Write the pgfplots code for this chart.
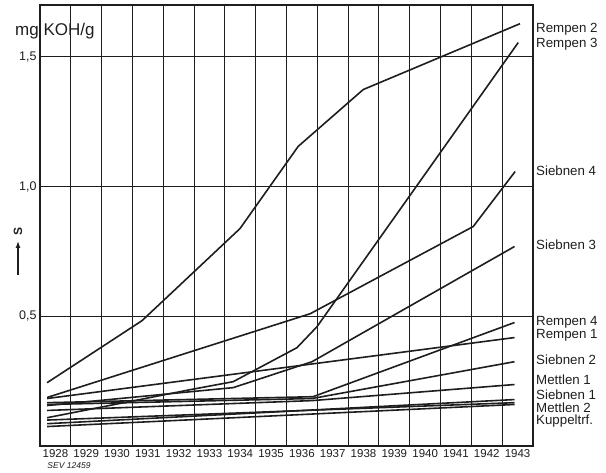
\documentclass[border=0pt]{standalone}
\usepackage{fontspec}
\setmainfont{Liberation Sans}
\usepackage{pgfplots}
\pgfplotsset{compat=1.18}
\usetikzlibrary{arrows.meta}
\definecolor{ink}{HTML}{1E1E1E}
\begin{document}
\begin{tikzpicture}
\begin{axis}[
  scale only axis, width=493pt, height=441pt,
  xmin=0, xmax=16, ymin=0, ymax=1.7,
  xtick={0.5,1.5,2.5,3.5,4.5,5.5,6.5,7.5,8.5,9.5,10.5,11.5,12.5,13.5,14.5,15.5},
  xticklabels={1928,1929,1930,1931,1932,1933,1934,1935,1936,1937,1938,1939,1940,1941,1942,1943},
  extra x ticks={1,2,3,4,5,6,7,8,9,10,11,12,13,14,15},
  extra x tick labels={},
  extra x tick style={grid=major},
  ytick={0.5,1,1.5},
  yticklabels={{0,5},{1,0},{1,5}},
  ymajorgrids,
  major tick length=0pt,
  xticklabel style={font=\fontsize{11.5}{12}\selectfont, text=ink},
  yticklabel style={font=\fontsize{12.5}{13}\selectfont, text=ink},
  grid style={line width=0.9pt, color=ink},
  axis line style={line width=1.3pt, color=ink},
  every axis plot post/.append style={color=ink, line width=1.6pt, solid, mark=none},
  clip=false,
]
% Rempen 2
\addplot coordinates {(0.23,0.244) (3.31,0.483) (6.49,0.838) (8.38,1.155) (10.49,1.374) (15.58,1.628)};
% Rempen 3
\addplot coordinates {(0.23,0.109) (4.87,0.217) (6.27,0.248) (8.34,0.379) (8.99,0.460) (15.52,1.555)};
% Siebnen 4
\addplot coordinates {(0.23,0.187) (8.77,0.510) (14.06,0.846) (15.42,1.058)};
% Siebnen 3
\addplot coordinates {(0.23,0.156) (6.27,0.225) (8.83,0.325) (15.4,0.769)};
% Rempen 1
\addplot coordinates {(0.23,0.183) (15.4,0.418)};
% Rempen 4
\addplot coordinates {(0.23,0.167) (8.86,0.190) (15.4,0.476)};
% Siebnen 2
\addplot coordinates {(0.23,0.160) (8.83,0.183) (15.4,0.325)};
% Mettlen 1
\addplot coordinates {(0.23,0.137) (8.83,0.175) (15.4,0.237)};
% Siebnen 1
\addplot coordinates {(0.23,0.086) (15.4,0.179)};
% Mettlen 2
\addplot coordinates {(0.23,0.100) (15.4,0.167)};
% Kuppeltrf.
\addplot coordinates {(0.23,0.075) (15.4,0.160)};

\begin{scope}[every node/.style={anchor=base west, xshift=3pt, font=\fontsize{13.3}{14}\selectfont, text=ink, inner sep=0pt}]
\node at (axis cs:16,1.594) {Rempen 2};
\node at (axis cs:16,1.536) {Rempen 3};
\node at (axis cs:16,1.042) {Siebnen 4};
\node at (axis cs:16,0.757) {Siebnen 3};
\node at (axis cs:16,0.464) {Rempen 4};
\node at (axis cs:16,0.414) {Rempen 1};
\node at (axis cs:16,0.314) {Siebnen 2};
\node at (axis cs:16,0.237) {Mettlen 1};
\node at (axis cs:16,0.179) {Siebnen 1};
\node at (axis cs:16,0.130) {Mettlen 2};
\node at (axis cs:16,0.082) {Kuppeltrf.};
\end{scope}
\node[anchor=base west, inner sep=0pt, font=\fontsize{17}{18}\selectfont, text=ink] at (axis cs:-0.81,1.582) {mg KOH/g};
\node[anchor=center, inner sep=0pt, font=\fontsize{8.5}{9}\selectfont\itshape, text=ink] at (axis description cs:0,0) [xshift=29pt, yshift=-20pt] {SEV 12459};
\draw[ink, line width=1.4pt, -{Latex[length=7pt,width=5pt]}] ([xshift=-22pt]axis description cs:0,0.388) -- ([xshift=-22pt]axis description cs:0,0.465);
\node[rotate=90, anchor=center, inner sep=0pt, font=\fontsize{12}{13}\selectfont\bfseries, text=ink] at ([xshift=-22pt]axis description cs:0,0.487) {S};
\end{axis}
\pgfresetboundingbox
\path[use as bounding box] (-40pt,-26pt) rectangle (566pt,446pt);
\end{tikzpicture}
\end{document}
